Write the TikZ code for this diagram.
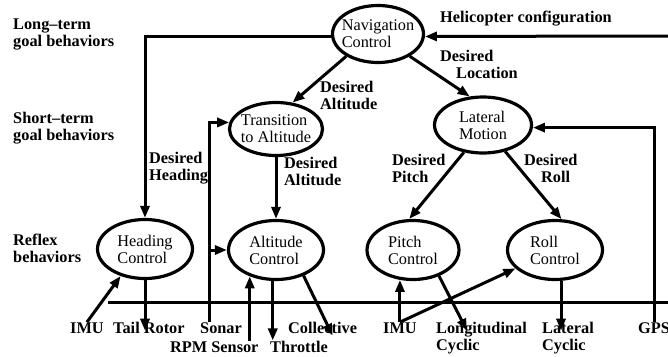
\documentclass[tikz,border=0pt]{standalone}
\usepackage{fontspec}
\setmainfont{Liberation Serif}
\usetikzlibrary{arrows.meta, shapes.geometric, calc}

\begin{document}
\begin{tikzpicture}[
    x=1pt, y=-1pt,
    font=\fontsize{16.3}{17}\selectfont,
    beh/.style={ellipse, draw, line width=3.2pt, align=left, inner sep=-15pt,
        minimum width=95pt, minimum height=59pt},
    lab/.style={font=\fontsize{16.3}{17}\selectfont\bfseries, align=left,
        inner sep=0pt, anchor=base west},
    flow/.style={-{Triangle[length=12pt, width=9pt]}, line width=3pt},
    wire/.style={line width=3pt},
]
\useasboundingbox (0,0) rectangle (668,356);

% levels
\node[lab] (lvlong) at (13,46) {Long--term\\goal behaviors};
\node[lab] (lvshort) at (13,140) {Short--term\\goal behaviors};
\node[lab] (lvreflex) at (13,262) {Reflex\\behaviors};

% behaviors
\node[beh, minimum width=91pt, minimum height=57pt] (nav) at (378,34) {Navigation\\Control};
\node[beh, minimum width=93pt, minimum height=53pt] (ta) at (276,129) {Transition\\to Altitude};
\node[beh, minimum width=97pt, minimum height=56pt] (lm) at (483,125) {Lateral\\Motion};
\node[beh] (hc) at (145,249) {Heading\\Control};
\node[beh] (ac) at (276,250) {Altitude\\Control};
\node[beh, minimum width=92pt] (pc) at (413,250) {Pitch\\Control};
\node[beh] (rc) at (555,250) {Roll\\Control};

% sensors and actuators
\node[lab] (imuA) at (70,333) {IMU};
\node[lab] (tail) at (113,333) {Tail Rotor};
\node[lab] (sonar) at (200,333) {Sonar};
\node[lab] (rpm) at (170,352) {RPM Sensor};
\node[lab] (thr) at (270,352) {Throttle};
\node[lab] (col) at (288,333) {Collective};
\node[lab] (imuB) at (383,333) {IMU};
\node[lab] (lon) at (436,350) {Longitudinal\\Cyclic};
\node[lab] (lat) at (542,350) {Lateral\\Cyclic};
\node[lab] (gps) at (638,333) {GPS};

% edge labels
\node[lab] (cfgl) at (440,22) {Helicopter configuration};
\node[lab] (dloc) at (440,78) {Desired\\\hspace*{16pt}Location};
\node[lab] (daltA) at (320,109) {Desired\\Altitude};
\node[lab] (dhead) at (149,180) {Desired\\Heading};
\node[lab] (daltB) at (284,185) {Desired\\Altitude};
\node[lab] (dpitch) at (392,182) {Desired\\Pitch};
\node[lab] (droll) at (524,182) {Desired\\\hspace*{17pt}Roll};

\coordinate (cfg) at (668,36);
\coordinate (busw) at (108,302);
\coordinate (buse) at (668,302);
\coordinate (son) at ([xshift=9pt]sonar.north west);

% bus
\draw[wire] (busw) -- (buse);

% goals
\draw[flow] (cfg) -- (nav.357);
\draw[flow] (nav.183) -| (hc.north);
\draw[flow] (nav.215) -- (ta.58);
\draw[flow] (nav.325) -- (lm.115);
\draw[flow] (ta.south) -- (ac.north);
\draw[flow] (lm.235) -- (pc.97);
\draw[flow] (lm.310) -- (rc.78);

% sensors in
\draw[flow] (imuA.north) -- (hc.228);
\draw[flow] (son) |- (ta.172);
\draw[flow] (son |- ac.west) -- (ac.west);
\draw[flow] (rpm.north -| ac.225) -- (ac.225);
\draw[flow] (imuB.north) -- (imuB.north |- pc.246);
\draw[flow] (imuB.north) -- (rc.205);
\draw[flow] (gps.north) |- (lm.357);

% actuators out
\draw[flow] (hc.south) -- (hc.south |- tail.mid);
\draw[flow] (ac.264) -- (ac.264 |- thr.north);
\draw[flow] (ac.317) -- ($(col.mid)+(10,5)$);
\draw[flow] (pc.315) -- ($(lon.west |- imuB.mid)+(31,0)$);
\draw[flow] (rc.281) -- (rc.281 |- imuB.mid);

\end{tikzpicture}
\end{document}
